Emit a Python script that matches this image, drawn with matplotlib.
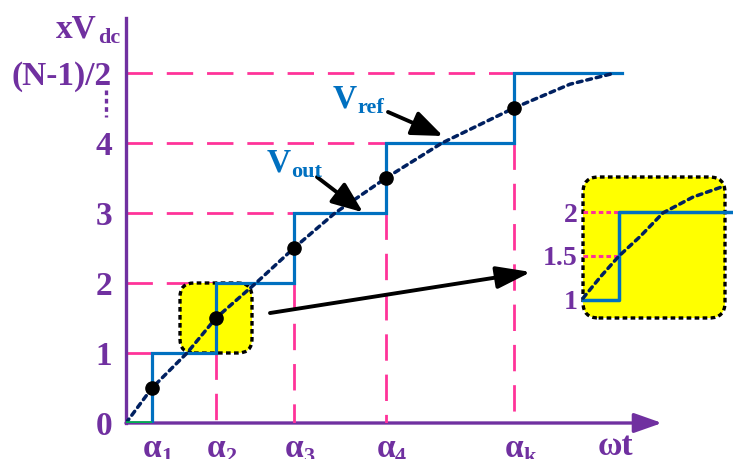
import matplotlib
matplotlib.use("Agg")
import matplotlib.pyplot as plt
from matplotlib.patches import FancyBboxPatch

W, H, DPI = 733, 459, 100

PURPLE = "#7030A0"
BLUE = "#0070C0"
PINK = "#FF3399"
NAVY = "#002060"
GREEN = "#00B050"
YELLOW = "#FFFF00"
SERIF = "Liberation Serif"

# switching angles along the ωt axis
alpha_names = ["1", "2", "3", "4", "k"]
alpha_pos = [26, 90, 168, 260, 388]
step_end = 496

# output levels (multiples of Vdc)
levels = [0, 1, 2, 3, 4, 5]
level_labels = ["0", "1", "2", "3", "4", "(N-1)/2"]

# reference waveform samples
vref_x = [0, 26, 61, 90, 130, 168, 209, 260, 316, 388, 444, 489]
vref_y = [0, 0.5, 1, 1.5, 2, 2.5, 3, 3.5, 4, 4.5, 4.84, 5.0]

# sampling points: reference crosses the half levels at each switching angle
sample_y = [0.5, 1.5, 2.5, 3.5, 4.5]

# zoomed detail around one switching step
zoom_step_x = [0, 36, 36, 150]
zoom_step_y = [1, 1, 2, 2]
zoom_ref_x = [0, 18, 36, 57, 80, 110, 140]
zoom_ref_y = [1.02, 1.27, 1.5, 1.72, 1.99, 2.17, 2.29]
zoom_levels = [1, 1.5, 2]
zoom_labels = ["1", "1.5", "2"]

plt.rcParams["font.family"] = [SERIF, "DejaVu Serif"]
plt.rcParams["font.weight"] = "bold"

fig = plt.figure(figsize=(W / DPI, H / DPI), dpi=DPI)


def fx(px):
    return px / W


def fy(py):
    return 1 - py / H


ax = fig.add_axes([126 / W, 36 / H, 540 / W, 405 / H])
ax.set_xlim(0, 540)
ax.set_ylim(0, 405 / 70)
ax.patch.set_alpha(0)
for s in ("top", "right", "bottom"):
    ax.spines[s].set_visible(False)
ax.spines["left"].set_color(PURPLE)
ax.spines["left"].set_linewidth(2.4)
ax.set_xticks([])
ax.set_yticks(levels, level_labels, fontsize=24, fontweight="bold", color=PURPLE)
ax.tick_params(axis="y", length=0, pad=10)

# x axis with arrow head
ax.annotate("", xy=(536, 0), xytext=(0, 0),
            arrowprops=dict(arrowstyle="-|>,head_length=0.85,head_width=0.3",
                            color=PURPLE, lw=2.4, mutation_scale=20,
                            shrinkA=0, shrinkB=0),
            annotation_clip=False, zorder=2)

# dashed guide lines
pink_kw = dict(color=PINK, lw=2.0, dashes=(9.5, 5.0), solid_capstyle="butt",
               dash_capstyle="butt", zorder=2)
for i, a in enumerate(alpha_pos):
    ax.plot([0, a], [levels[i + 1], levels[i + 1]], **pink_kw)
for i, a in enumerate(alpha_pos[1:], start=1):
    ax.plot([a, a], [levels[i], 0], **pink_kw)

# staircase output voltage
sx, sy = [], []
for i, a in enumerate(alpha_pos):
    nxt = alpha_pos[i + 1] if i + 1 < len(alpha_pos) else step_end
    sx += [a, a, nxt]
    sy += [levels[i], levels[i + 1], levels[i + 1]]
ax.plot(sx, sy, color=BLUE, lw=2.3, zorder=3, solid_joinstyle="miter")
ax.plot([0, alpha_pos[0]], [0, 0], color=GREEN, lw=2.6, zorder=4,
        solid_capstyle="butt")

# reference waveform
ax.plot(vref_x, vref_y, color=NAVY, lw=2.5, dashes=(1.4, 1.4),
        dash_capstyle="round", zorder=3.5)
ax.plot(alpha_pos, sample_y, "o", color="black", ms=9.5, zorder=4)

# highlighted region
box = FancyBboxPatch((54, 1.0), 72, 1.0,
                     boxstyle="round,pad=0,rounding_size=14",
                     mutation_aspect=1 / 70, fc=YELLOW, ec="black", lw=2.4,
                     ls=(0, (1.4, 1.0)), zorder=2.5)
ax.add_patch(box)

# ellipsis between level 4 and the top level
ax.plot([-20, -20], [(423 - 90) / 70, (423 - 117) / 70], color=PURPLE, lw=2.4,
        dashes=(1.4, 1.1), clip_on=False)

# switching-angle labels
for name, a in zip(alpha_names, alpha_pos):
    ax.text(a, -0.49, "α", ha="center", va="baseline", fontsize=24,
            color=PURPLE, clip_on=False)
    ax.text(a + 9, -0.56, name, ha="left", va="baseline", fontsize=16,
            color=PURPLE, clip_on=False)
ax.text(472, -0.457, "ωt", ha="left", va="baseline", fontsize=24,
        color=PURPLE, clip_on=False)

# axis title
fig.text(fx(97), fy(38), "xV", ha="right", va="baseline", fontsize=24,
         color=PURPLE)
fig.text(fx(98), fy(43), "dc", ha="left", va="baseline", fontsize=16,
         color=PURPLE)

# waveform names
fig.text(fx(333), fy(108), "V", ha="left", va="baseline", fontsize=24, color=BLUE)
fig.text(fx(357), fy(113), "ref", ha="left", va="baseline", fontsize=16, color=BLUE)
fig.text(fx(267), fy(172), "V", ha="left", va="baseline", fontsize=24, color=BLUE)
fig.text(fx(291), fy(177), "out", ha="left", va="baseline", fontsize=16, color=BLUE)

arrow_kw = dict(arrowstyle="-|>,head_length=0.95,head_width=0.38", color="black",
                lw=2.8, mutation_scale=20, shrinkA=0, shrinkB=0)
ax.annotate("", xy=(317, 4.1), xytext=(262, 4.443), arrowprops=arrow_kw, zorder=5)
ax.annotate("", xy=(237, 3.01), xytext=(191, 3.514), arrowprops=arrow_kw, zorder=5)
ax.annotate("", xy=(405, 2.157), xytext=(144, 1.571),
            arrowprops=dict(arrow_kw, arrowstyle="-|>,head_length=1.05,head_width=0.34"),
            zorder=5)

# zoomed detail
ax_in = fig.add_axes([583 / W, (459 - 318) / H, 142 / W, 141 / H])
ax_in.set_xlim(0, 142)
ax_in.set_ylim(0.795, 2.398)
ax_in.patch.set_alpha(0)
for s in ax_in.spines.values():
    s.set_visible(False)
ax_in.set_xticks([])
ax_in.set_yticks(zoom_levels, zoom_labels, fontsize=20, fontweight="bold",
                 color=PURPLE)
ax_in.tick_params(axis="y", length=0, pad=4)
ax_in.add_patch(FancyBboxPatch((0, 0), 1, 1, boxstyle="round,pad=0,rounding_size=0.11",
                               transform=ax_in.transAxes, fc=YELLOW, ec="black",
                               lw=2.4, ls=(0, (1.4, 1.0)), zorder=1, clip_on=False))
for lv in zoom_levels[1:]:
    ax_in.plot([0, 36], [lv, lv], color=PINK, lw=2.2, dashes=(1.5, 1.0), zorder=2)
ax_in.plot(zoom_step_x, zoom_step_y, color=BLUE, lw=2.5, zorder=3, clip_on=False)
ax_in.plot(zoom_ref_x, zoom_ref_y, color=NAVY, lw=2.5, dashes=(1.4, 1.4),
           dash_capstyle="round", zorder=3.5, clip_on=False)

fig.savefig("out.png", dpi=DPI)
